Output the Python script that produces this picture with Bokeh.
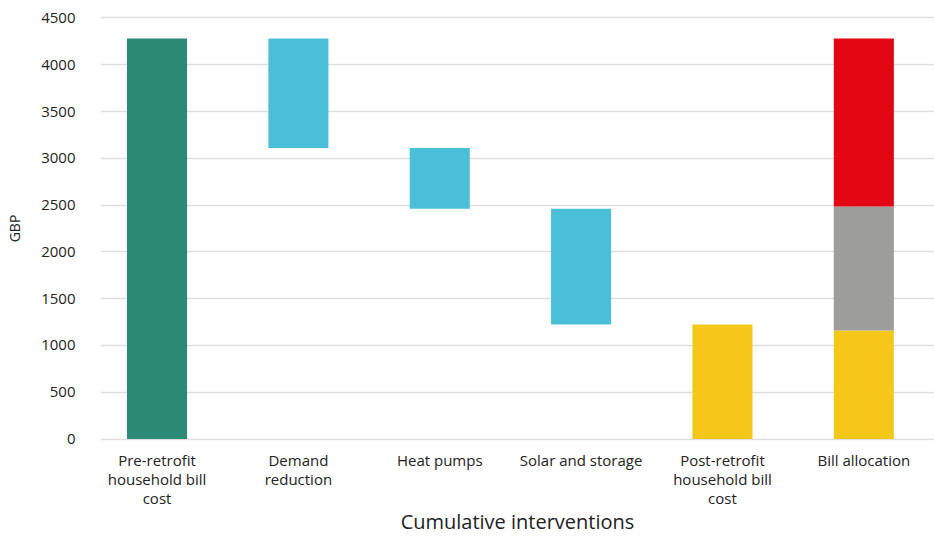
from bokeh.plotting import figure
from bokeh.models import ColumnDataSource, FixedTicker, Range1d
from bokeh.embed import file_html
from bokeh.resources import INLINE

# ---- data ----
categories = ["Pre-retrofit\nhousehold bill\ncost", "Demand\nreduction", "Heat pumps",
              "Solar and storage", "Post-retrofit\nhousehold bill\ncost", "Bill allocation"]
pre_retrofit = 4280
reductions = [1170, 650, 1235]          # demand reduction, heat pumps, solar and storage
post_retrofit = 1225
allocation = [1160, 1325, 1795]         # stacked parts of bill allocation
y_ticks = [0, 500, 1000, 1500, 2000, 2500, 3000, 3500, 4000, 4500]

GREEN, BLUE, YELLOW, GREY, RED = "#2c8a74", "#4bbfd7", "#f5c71a", "#9d9d9b", "#e30613"

xs, bottoms, tops, colors = [], [], [], []
xs.append(0); bottoms.append(0); tops.append(pre_retrofit); colors.append(GREEN)
level = pre_retrofit
for i, r in enumerate(reductions):
    xs.append(i + 1); tops.append(level); bottoms.append(level - r); colors.append(BLUE)
    level -= r
xs.append(4); bottoms.append(0); tops.append(post_retrofit); colors.append(YELLOW)
acc = 0
for part, c in zip(allocation, [YELLOW, GREY, RED]):
    xs.append(5); bottoms.append(acc); tops.append(acc + part); colors.append(c)
    acc += part

src = ColumnDataSource(dict(x=xs, bottom=bottoms, top=tops, color=colors))

FONT = "Open Sans"
TXT = "#222222"

p = figure(width=934, height=537, output_backend="svg", toolbar_location=None,
           x_range=Range1d(-0.40, 5.5), y_range=Range1d(-80, 4580),
           min_border_left=100, min_border_right=0, min_border_top=10, min_border_bottom=91)
p.outline_line_color = None
p.background_fill_color = "white"

p.vbar(x="x", bottom="bottom", top="top", width=0.425, color="color", source=src, line_color=None)

# axes
p.xaxis.ticker = FixedTicker(ticks=list(range(len(categories))))
p.xaxis.major_label_overrides = {i: c for i, c in enumerate(categories)}
p.xaxis.axis_line_color = None
p.xaxis.major_tick_line_color = None
p.xaxis.minor_tick_line_color = None
p.xaxis.major_tick_in = 0
p.xaxis.major_tick_out = 0
p.xaxis.major_label_text_font = FONT
p.xaxis.major_label_text_font_size = "15px"
p.xaxis.major_label_text_line_height = 0.95
p.xaxis.major_label_text_color = TXT
p.xaxis.major_label_standoff = 3
p.xaxis.axis_label = "Cumulative interventions"
p.xaxis.axis_label_text_font = FONT
p.xaxis.axis_label_text_font_size = "20px"
p.xaxis.axis_label_text_font_style = "normal"
p.xaxis.axis_label_text_color = TXT
p.xaxis.axis_label_text_line_height = 0.7
p.xaxis.axis_label_standoff = -3

p.yaxis.ticker = FixedTicker(ticks=y_ticks)
p.yaxis.axis_line_color = None
p.yaxis.major_tick_line_color = None
p.yaxis.minor_tick_line_color = None
p.yaxis.major_tick_in = 0
p.yaxis.major_tick_out = 0
p.yaxis.major_label_text_font = FONT
p.yaxis.major_label_text_font_size = "15px"
p.yaxis.major_label_text_color = TXT
p.yaxis.major_label_standoff = 25
p.yaxis.axis_label = "GBP"
p.yaxis.axis_label_text_font = FONT
p.yaxis.axis_label_text_font_size = "14px"
p.yaxis.axis_label_text_font_style = "normal"
p.yaxis.axis_label_text_color = TXT
p.yaxis.axis_label_standoff = 14

p.xgrid.grid_line_color = None
p.ygrid.ticker = FixedTicker(ticks=y_ticks)
p.ygrid.grid_line_color = "#dddddd"
p.ygrid.grid_line_width = 1.5

open("out.html", "w").write(file_html(p, INLINE))
